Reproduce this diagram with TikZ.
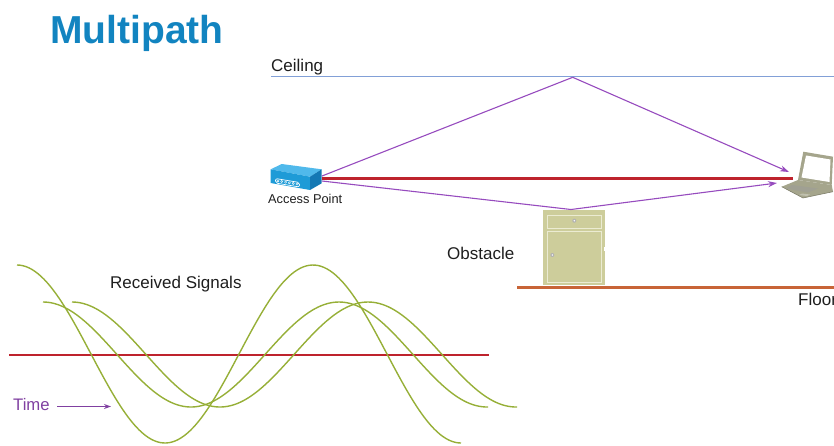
\documentclass[tikz,border=0pt]{standalone}
\usepackage{fontspec}
\setmainfont{Liberation Sans}
\usetikzlibrary{arrows.meta}
\definecolor{titleblue}{RGB}{18,132,192}
\definecolor{ceilblue}{RGB}{130,160,215}
\definecolor{floorclr}{RGB}{200,100,55}
\definecolor{raypurple}{RGB}{150,75,190}
\definecolor{directred}{RGB}{190,35,45}
\definecolor{wavegreen}{RGB}{150,175,55}
\definecolor{txt}{RGB}{30,30,30}
\definecolor{apblue}{RGB}{30,155,215}
\definecolor{apdark}{RGB}{20,120,180}
\definecolor{aplight}{RGB}{80,185,235}
\definecolor{cabfill}{RGB}{205,205,155}
\definecolor{cabedge}{RGB}{235,235,210}
\definecolor{lapgray}{RGB}{165,165,140}
\definecolor{lapdark}{RGB}{120,120,100}
\tikzset{
  lbl/.style={anchor=base west, inner sep=0pt, text=txt, font=\fontsize{17}{20}\selectfont},
  ray/.style={draw=raypurple, line width=1.1pt},
  rayarrow/.style={ray, -{Stealth[length=9pt,width=6pt]}},
  wave/.style={draw=wavegreen, line width=1.4pt},
}
\begin{document}
\begin{tikzpicture}[x=1pt,y=-1pt]
\useasboundingbox (0,0) rectangle (834,445);

% title
\node[anchor=base west, inner sep=0pt, text=titleblue, font=\fontsize{39}{44}\selectfont\bfseries] (title) at (50,43) {Multipath};

% ceiling
\coordinate (ceilL) at (271,76.5);
\coordinate (ceilR) at (834,76.5);
\draw[ceilblue, line width=1pt] (ceilL) -- (ceilR);
\node[lbl] (ceiling) at (271,71) {Ceiling};

% floor
\coordinate (floorL) at (517,287.5);
\coordinate (floorR) at (834,287.5);
\draw[floorclr, line width=2.2pt] (floorL) -- (floorR);
\node[lbl] (floor) at (798,305) {Floor};

% obstacle (cabinet)
\fill[cabfill] (543,210) rectangle (605,285);
\draw[cabedge, line width=1pt] (547,215) rectangle (601.5,228.5);
\draw[cabedge, line width=1pt] (547,231) rectangle (601.5,282.5);
\fill[gray!60] (574.3,220.7) circle (2pt);
\fill[white] (574.3,220.7) circle (0.8pt);
\fill[gray!60] (552.3,255) circle (2pt);
\fill[white] (552.3,255) circle (0.8pt);
\fill[white] (603.5,247) rectangle (605.5,251);
\node[lbl] (obstacle) at (447,259) {Obstacle};

% access point
\fill[aplight] (270.7,169.3) -- (281.7,164) -- (321.7,169.3) -- (310,176.7) -- cycle;
\fill[apblue] (270.7,169.3) -- (310,176.7) -- (310,190) -- (270.7,183) -- cycle;
\fill[apdark] (310,176.7) -- (321.7,169.3) -- (321.7,183.3) -- (310,190) -- cycle;
\draw[white, line width=0.7pt, rounded corners=2pt] (275.5,178.5) -- (299.5,182.5) -- (299.5,187) -- (275.5,183) -- cycle;
\foreach \i in {0,...,5} {
  \draw[white, line width=0.4pt] (278+\i*3.8,{180.9+\i*0.63}) circle (1.1pt);
}
\node[anchor=base west, inner sep=0pt, text=txt, font=\fontsize{12.8}{15}\selectfont] (aplabel) at (268,203) {Access Point};

% laptop
\fill[lapgray] (803.3,151.7) -- (833,156.7) -- (831.7,185) -- (798,180) -- cycle;
\fill[white] (806,155.5) -- (830.5,159.5) -- (829.5,182) -- (801.5,177.5) -- cycle;
\fill[lapgray] (798,180) -- (831.7,185) -- (833,191.7) -- (803,198) -- (781.7,186.7) -- cycle;
\draw[lapdark, line width=0.5pt] (781.7,186.7) -- (803,198) -- (833,191.7);
\fill[lapdark!70] (792,185) -- (818,188.5) -- (808,192.5) -- (786,188.5) -- cycle;
\fill[lapgray!70] (802,193.5) -- (810,194.5) -- (807,196) -- (799,195) -- cycle;

% ray end points
\coordinate (apA) at (322,176);
\coordinate (apB) at (322,178.5);
\coordinate (apC) at (322,181);
\coordinate (bounceTop) at (572.7,77.3);
\coordinate (bounceObs) at (571,209.5);
\coordinate (lapA) at (789,172);
\coordinate (lapB) at (793,178.5);
\coordinate (lapC) at (777,183);

% rays
\draw[ray] (apA) -- (bounceTop);
\draw[rayarrow] (bounceTop) -- (lapA);
\draw[ray] (apC) -- (bounceObs);
\draw[rayarrow] (bounceObs) -- (lapC);
\draw[directred, line width=2.6pt] (apB) -- (lapB);

% received signals
\node[lbl] (rxlabel) at (110,288) {Received Signals};
\coordinate (axisL) at (9,355);
\coordinate (axisR) at (489,355);
\draw[directred, line width=1.2pt] (axisL) -- (axisR);
\draw[wave] plot[domain=17:461, samples=150, smooth] (\x,{354-89*cos(1.216216*(\x-17))});
\draw[wave] plot[domain=43:488, samples=150, smooth] (\x,{354.5-52.5*cos(1.216216*(\x-43))});
\draw[wave] plot[domain=72:517, samples=150, smooth] (\x,{354.5-52.5*cos(1.216216*(\x-72))});

% time axis label
\node[anchor=base west, inner sep=0pt, text=raypurple!85!black, font=\fontsize{16.7}{20}\selectfont] (time) at (13,410) {Time};
\coordinate (timeTail) at (57,406.5);
\coordinate (timeTip) at (111,406.5);
\draw[raypurple!85!black, line width=1pt, -{Stealth[length=7pt,width=5pt]}] (timeTail) -- (timeTip);
\end{tikzpicture}
\end{document}
